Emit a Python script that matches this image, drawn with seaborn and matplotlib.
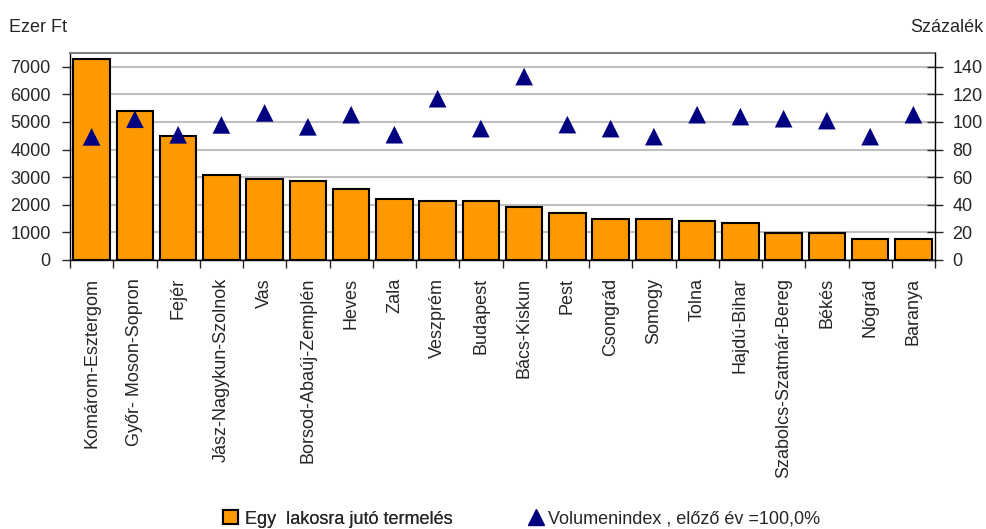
import pandas as pd
import matplotlib.pyplot as plt
import seaborn as sns
from matplotlib.lines import Line2D
from matplotlib.patches import Patch

megyek = ['Komárom-Esztergom', 'Győr- Moson-Sopron', 'Fejér', 'Jász-Nagykun-Szolnok',
          'Vas', 'Borsod-Abaúj-Zemplén', 'Heves', 'Zala', 'Veszprém', 'Budapest',
          'Bács-Kiskun', 'Pest', 'Csongrád', 'Somogy', 'Tolna', 'Hajdú-Bihar',
          'Szabolcs-Szatmár-Bereg', 'Békés', 'Nógrád', 'Baranya']
termeles = [7290, 5415, 4475, 3085, 2940, 2865, 2575, 2210, 2150, 2150,
            1935, 1715, 1500, 1500, 1425, 1355, 990, 990, 775, 775]
volumenindex = [89.2, 102.0, 90.7, 97.9, 106.6, 96.5, 105.3, 90.8, 116.9, 95.2,
                132.9, 98.1, 95.2, 89.4, 105.3, 103.9, 102.4, 101.0, 89.4, 105.3]

df = pd.DataFrame({'megye': megyek, 'termeles': termeles, 'index': volumenindex})

sns.set_style('white')
plt.rcParams['font.family'] = ['Liberation Sans', 'DejaVu Sans']
fs = 13

fig = plt.figure(figsize=(9.86, 5.29), dpi=100)
ax = fig.add_axes([70 / 986, 1 - 260 / 529, 865 / 986, 207 / 529])

sns.barplot(data=df, x='megye', y='termeles', ax=ax, color='#FF9900',
            edgecolor='black', linewidth=1.5, width=0.84, saturation=1, zorder=3)
ax.set_ylim(0, 7500)
ax.set_xlim(-0.5, len(megyek) - 0.5)
ax.set_yticks(range(0, 7001, 1000))
ax.yaxis.grid(True, color='#C0C0C0', linewidth=1.5, zorder=0)
ax.set_axisbelow(True)
ax.set_xlabel('')
ax.set_ylabel('')
ax.set_xticks(range(len(megyek)))
ax.set_xticklabels(megyek, rotation=90, fontsize=fs, va='top', ha='center')
ax.tick_params(axis='x', length=0, pad=13)
ax.tick_params(axis='y', labelsize=fs, length=6, width=1, direction='out', left=True, pad=8)
# osztásjelek a kategóriák között
ax.set_xticks([i - 0.5 for i in range(len(megyek) + 1)], minor=True)
ax.tick_params(axis='x', which='minor', length=6, width=1, direction='out', bottom=True)

for s in ['left', 'bottom']:
    ax.spines[s].set_color('black')
    ax.spines[s].set_linewidth(1)
ax.spines['top'].set_color('#808080')
ax.spines['top'].set_linewidth(1.5)
ax.spines['right'].set_visible(False)

ax2 = ax.twinx()
sns.scatterplot(data=df, x='megye', y='index', ax=ax2, marker='^', s=12.7 ** 2,
                color='#000080', edgecolor='none', zorder=5)
ax2.set_ylim(0, 150)
ax2.set_yticks(range(0, 141, 20))
ax2.set_ylabel('')
ax2.set_xlabel('')
ax2.tick_params(axis='y', labelsize=fs, length=11, width=1, direction='inout', right=True, pad=7)
for s in ['left', 'top', 'bottom']:
    ax2.spines[s].set_visible(False)
ax2.spines['right'].set_color('black')
ax2.spines['right'].set_linewidth(1)

fig.text(9 / 986, 1 - 32 / 529, 'Ezer Ft', fontsize=fs, ha='left', va='baseline')
fig.text(983 / 986, 1 - 32 / 529, 'Százalék', fontsize=fs, ha='right', va='baseline')

leg1 = fig.legend([Patch(facecolor='#FF9900', edgecolor='black', linewidth=1.5)],
                  ['Egy  lakosra jutó termelés'], loc='center left',
                  bbox_to_anchor=(207 / 986, 1 - 519 / 529), frameon=False, fontsize=fs,
                  handlelength=0.8, handleheight=0.8, handletextpad=0.4)
fig.add_artist(leg1)
fig.legend([Line2D([], [], marker='^', linestyle='none', color='#000080', markersize=12)],
           ['Volumenindex , előző év =100,0%'], loc='center left',
           bbox_to_anchor=(511 / 986, 1 - 519 / 529), frameon=False, fontsize=fs,
           handlelength=1.0, handletextpad=0.15)

plt.savefig('out.png', dpi=100)
